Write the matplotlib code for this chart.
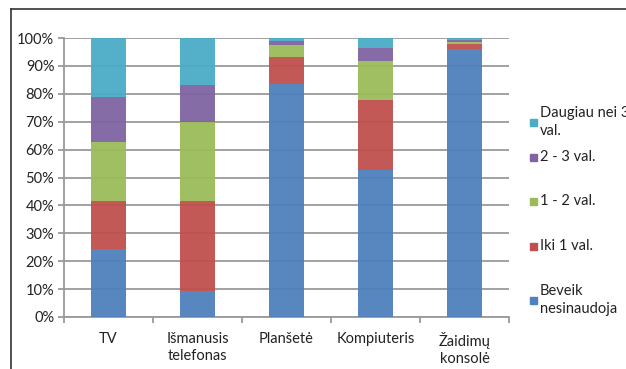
import matplotlib.pyplot as plt
from matplotlib.patches import Rectangle
import numpy as np

plt.rcParams['font.family'] = ['Lato', 'DejaVu Sans']

devices = ['TV', 'Išmanusis\ntelefonas', 'Planšetė', 'Kompiuteris', 'Žaidimų\nkonsolė']
groups = ['Beveik\nnesinaudoja', 'Iki 1 val.', '1 - 2 val.', '2 - 3 val.', 'Daugiau nei 3\nval.']
colors = ['#4f81bd', '#c0504d', '#9bbb59', '#8064a2', '#4bacc6']

# shares in %, one list per usage group
beveik = [24.3, 9.3, 83.6, 52.6, 96.1]
iki1 = [17.2, 32.2, 9.6, 25.1, 1.7]
val12 = [21.4, 28.5, 4.3, 14.1, 0.7]
val23 = [16.0, 13.1, 1.4, 4.6, 0.8]
daugiau = [21.1, 16.9, 1.1, 3.6, 0.7]
series = [beveik, iki1, val12, val23, daugiau]

W, H = 626, 369
fig = plt.figure(figsize=(W / 100, H / 100), dpi=100)
ax = fig.add_axes([64 / W, 1 - 317 / H, (509 - 64) / W, (317 - 38) / H])

x = np.arange(len(devices))
bottom = np.zeros(len(devices))
for vals, c in zip(series, colors):
    ax.bar(x, vals, 0.39, bottom=bottom, color=c, alpha=0.95, zorder=3)
    bottom += np.array(vals)

fs = 10.5
ax.set_xlim(-0.5, len(devices) - 0.5)
ax.set_ylim(0, 100)
ax.set_yticks(np.arange(0, 101, 10))
ax.set_yticklabels([f'{v}%' for v in range(0, 101, 10)], fontsize=fs, color='#222222')
ax.yaxis.grid(True, color='#9a9a9a', linewidth=1.3, zorder=0)
ax.set_xticks(x)
ax.set_xticklabels(devices, fontsize=fs, color='#222222', linespacing=1.25)
ax.set_xticks(np.arange(-0.5, len(devices)), minor=True)
ax.tick_params(axis='x', which='major', length=0, pad=11)
ax.tick_params(axis='x', which='minor', length=4, color='#9a9a9a', width=1.3)
ax.tick_params(axis='y', length=4, color='#9a9a9a', width=1.3, pad=3)
for s in ['top', 'right']:
    ax.spines[s].set_visible(False)
for s in ['left', 'bottom']:
    ax.spines[s].set_color('#9a9a9a')
    ax.spines[s].set_linewidth(1.3)

# legend, top entry first
leg_y = [122, 157, 201, 246, 300]
for lab, c, ly in zip(groups[::-1], colors[::-1], leg_y):
    fig.patches.append(Rectangle((530 / W, 1 - (ly + 3.5) / H), 7 / W, 7 / H,
                                 transform=fig.transFigure, color=c))
    fig.text(540 / W, 1 - ly / H, lab, fontsize=fs, color='#222222',
             va='center', ha='left', linespacing=1.4)

# outer frame
fig.add_artist(plt.Line2D([11 / W, 11 / W], [0, 1 - 9 / H], color='#333333', lw=1.2))
fig.add_artist(plt.Line2D([11 / W, 1], [1 - 9 / H, 1 - 9 / H], color='#333333', lw=1.2))

fig.savefig('out.png', dpi=100)
